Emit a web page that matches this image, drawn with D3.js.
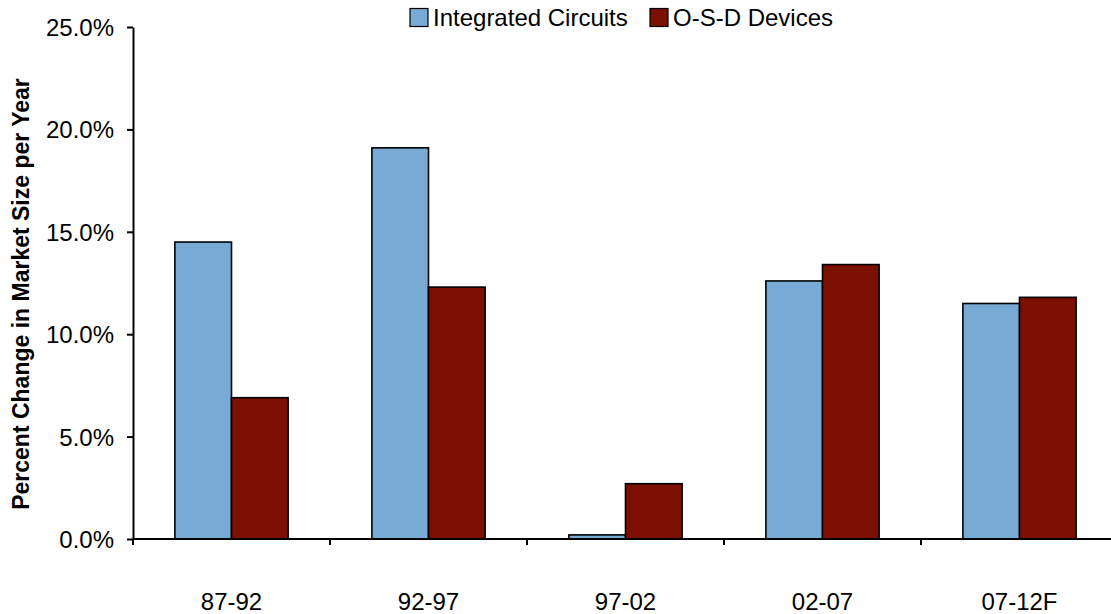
<!DOCTYPE html>
<html><head><meta charset="utf-8">
<script src="https://cdn.jsdelivr.net/npm/d3@7"></script>
<style>body{margin:0;background:#fff}svg text{font-family:"Liberation Sans",Arial,sans-serif}</style>
</head><body><svg id="c" width="1111" height="614"></svg>
<script>
const categories = ["87-92","92-97","97-02","02-07","07-12F"];
const seriesNames = ["Integrated Circuits","O-S-D Devices"];
const icValues = [14.5, 19.1, 0.2, 12.6, 11.5];
const osdValues = [6.9, 12.3, 2.7, 13.4, 11.8];
const yTicks = [0, 5, 10, 15, 20, 25];
const colors = ["#77AAD5", "#7B0F00"];

const svg = d3.select("#c");
const x0 = 133, x1 = 1118, yTop = 27, yBot = 539;
const x = d3.scaleBand().domain(categories).range([x0, x1]).paddingInner(0).paddingOuter(0);
const y = d3.scaleLinear().domain([0, 25]).range([yBot, yTop]);
const inner = d3.scaleBand().domain(seriesNames).range([0, x.bandwidth()]).paddingInner(0).paddingOuter(0.74);

const data = categories.map((c, i) => ({c, vals: [icValues[i], osdValues[i]]}));
const g = svg.append("g");
data.forEach(d => {
  d.vals.forEach((v, j) => {
    g.append("rect")
      .attr("x", x(d.c) + inner(seriesNames[j]))
      .attr("width", inner.bandwidth())
      .attr("y", y(v))
      .attr("height", y(0) - y(v))
      .attr("fill", colors[j])
      .attr("stroke", "#000").attr("stroke-width", 1.6);
  });
});

// y axis
const ya = svg.append("g").attr("transform", `translate(${x0},0)`)
  .call(d3.axisLeft(y).tickValues(yTicks).tickSize(6).tickSizeOuter(0).tickFormat(d => d.toFixed(1) + "%"));
ya.select(".domain").attr("stroke", "#000").attr("stroke-width", 2);
ya.selectAll(".tick line").attr("stroke", "#000").attr("stroke-width", 2);
ya.selectAll(".tick text").attr("font-size", 24).attr("fill", "#000").attr("x", -19).attr("dy", "0.35em");

// x axis
svg.append("line").attr("x1", x0).attr("x2", 1111).attr("y1", yBot).attr("y2", yBot)
  .attr("stroke", "#000").attr("stroke-width", 2);
const bounds = categories.map(c => x(c)).concat([x1]);
svg.selectAll(".xt").data(bounds).enter().append("line")
  .attr("x1", d => d).attr("x2", d => d).attr("y1", yBot).attr("y2", yBot + 6)
  .attr("stroke", "#000").attr("stroke-width", 2);
svg.selectAll(".xl").data(categories).enter().append("text")
  .attr("x", d => x(d) + x.bandwidth() / 2).attr("y", 610)
  .attr("text-anchor", "middle").attr("font-size", 24).attr("fill", "#000").text(d => d);

// y title
svg.append("text").attr("transform", "translate(29,294) rotate(-90)")
  .attr("text-anchor", "middle").attr("font-size", 23).attr("font-weight", "bold")
  .text("Percent Change in Market Size per Year");

// legend
const leg = [{n: seriesNames[0], x: 410, c: colors[0]}, {n: seriesNames[1], x: 650, c: colors[1]}];
leg.forEach(l => {
  svg.append("rect").attr("x", l.x).attr("y", 8.5).attr("width", 18).attr("height", 18)
    .attr("fill", l.c).attr("stroke", "#000").attr("stroke-width", 1.2);
  svg.append("text").attr("x", l.x + 23).attr("y", 26).attr("font-size", 24).text(l.n);
});
</script></body></html>
